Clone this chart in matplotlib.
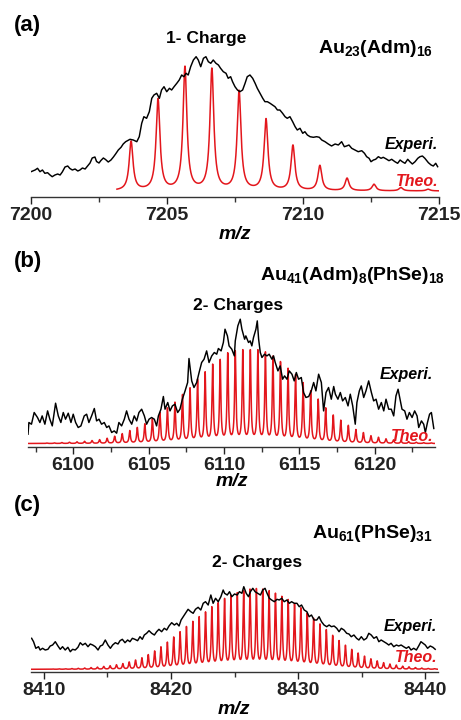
import numpy as np
import matplotlib
matplotlib.use("Agg")
import matplotlib.pyplot as plt
from matplotlib.ticker import MultipleLocator

plt.rcParams['font.family'] = ['Liberation Sans', 'DejaVu Sans']
plt.rcParams['font.weight'] = 'bold'
plt.rcParams['mathtext.fontset'] = 'custom'
plt.rcParams['mathtext.rm'] = 'Liberation Sans:bold'
plt.rcParams['mathtext.bf'] = 'Liberation Sans:bold'
plt.rcParams['mathtext.default'] = 'bf'

# ---- (a) Au23(Adm)16, 1- charge ----
exp_a_mz = [7200.00, 7200.15, 7200.24, 7200.33, 7200.42, 7200.51, 7200.61, 7200.70, 7200.78, 7200.88,
            7200.98, 7201.07, 7201.15, 7201.25, 7201.35, 7201.43, 7201.52, 7201.62, 7201.72, 7201.80,
            7201.89, 7201.99, 7202.08, 7202.17, 7202.25, 7202.35, 7202.41, 7202.50, 7202.57, 7202.66,
            7202.74, 7202.84, 7202.94, 7203.03, 7203.11, 7203.21, 7203.31, 7203.39, 7203.48, 7203.64,
            7203.76, 7203.89, 7203.98, 7204.07, 7204.15, 7204.25, 7204.35, 7204.44, 7204.52, 7204.62,
            7204.72, 7204.80, 7204.89, 7204.99, 7205.09, 7205.17, 7205.26, 7205.36, 7205.45, 7205.54,
            7205.62, 7205.70, 7205.78, 7205.87, 7205.97, 7206.07, 7206.15, 7206.24, 7206.34, 7206.43,
            7206.52, 7206.61, 7206.70, 7206.80, 7206.89, 7206.97, 7207.07, 7207.17, 7207.25, 7207.34,
            7207.41, 7207.50, 7207.59, 7207.68, 7207.78, 7207.87, 7207.95, 7208.05, 7208.15, 7208.24,
            7208.32, 7208.42, 7208.52, 7208.60, 7208.69, 7208.79, 7208.88, 7208.97, 7209.06, 7209.15,
            7209.25, 7209.34, 7209.42, 7209.52, 7209.62, 7209.71, 7209.79, 7209.89, 7209.99, 7210.07,
            7210.16, 7210.26, 7210.38, 7210.50, 7210.60, 7210.69, 7210.81, 7210.93, 7211.05, 7211.18,
            7211.30, 7211.42, 7211.52, 7211.60, 7211.69, 7211.79, 7211.91, 7212.03, 7212.16, 7212.26,
            7212.34, 7212.43, 7212.50, 7212.59, 7212.67, 7212.77, 7212.87, 7212.95, 7213.08, 7213.16,
            7213.26, 7213.38, 7213.48, 7213.57, 7213.65, 7213.75, 7213.85, 7213.93, 7214.02, 7214.12,
            7214.22, 7214.30, 7214.39, 7214.48, 7214.61, 7214.71, 7214.79, 7214.88, 7214.95]
exp_a_int = [19.3, 21.0, 22.7, 19.3, 21.0, 17.7, 18.3, 16.0, 14.3, 16.0,
             17.0, 16.0, 19.0, 24.0, 25.0, 22.5, 21.0, 22.0, 20.0, 21.0,
             23.0, 22.0, 25.0, 28.0, 33.0, 34.0, 29.5, 28.0, 30.5, 33.0,
             31.5, 29.0, 31.0, 34.0, 37.0, 41.0, 43.7, 47.0, 49.3, 51.7,
             51.0, 49.3, 54.3, 67.7, 74.3, 72.7, 79.3, 92.7, 96.0, 97.7,
             92.7, 101.0, 104.3, 99.3, 102.7, 101.0, 104.3, 107.7, 111.0, 116.0,
             114.3, 117.7, 116.0, 124.3, 131.0, 134.3, 131.0, 124.3, 132.7, 134.3,
             129.3, 127.7, 131.0, 127.7, 126.0, 122.7, 119.3, 117.7, 112.7, 114.3,
             109.3, 104.3, 101.0, 99.3, 101.0, 107.7, 114.3, 116.0, 112.7, 107.7,
             102.7, 97.7, 92.7, 89.3, 89.3, 87.7, 86.0, 84.3, 81.0, 81.0,
             77.7, 74.3, 72.7, 74.3, 69.3, 64.3, 61.0, 62.7, 57.7, 59.3,
             56.0, 54.3, 53.7, 54.3, 53.7, 51.0, 49.3, 47.0, 45.0, 47.0,
             46.0, 49.3, 44.3, 45.0, 46.0, 42.7, 41.0, 39.3, 40.3, 37.7,
             34.3, 32.7, 29.3, 31.0, 31.7, 34.3, 32.7, 33.7, 31.7, 30.3,
             31.7, 29.3, 27.7, 31.0, 29.3, 27.7, 31.7, 29.3, 27.0, 29.3,
             32.7, 34.3, 35.0, 32.7, 28.3, 26.0, 25.0, 27.7, 24.3]
theo_a_mz = [7203.68, 7204.67, 7205.66, 7206.65, 7207.65, 7208.64,
             7209.63, 7210.62, 7211.62, 7212.61, 7213.60, 7214.60]
theo_a_int = [49, 91, 123, 121, 99, 71, 45, 25, 12.5, 6.5, 3.3, 1.7]

# ---- (b) Au41(Adm)8(PhSe)18, 2- charges ----
exp_b_mz = [6097.00, 6097.06, 6097.23, 6097.41, 6097.63, 6097.79, 6097.94, 6098.12, 6098.30, 6098.45,
            6098.61, 6098.83, 6099.01, 6099.18, 6099.34, 6099.49, 6099.67, 6099.85, 6100.00, 6100.16,
            6100.33, 6100.51, 6100.73, 6100.89, 6101.04, 6101.22, 6101.40, 6101.55, 6101.71, 6101.88,
            6102.06, 6102.22, 6102.37, 6102.55, 6102.72, 6102.88, 6103.03, 6103.21, 6103.39, 6103.54,
            6103.70, 6103.88, 6104.05, 6104.21, 6104.36, 6104.54, 6104.72, 6104.87, 6105.03, 6105.20,
            6105.38, 6105.53, 6105.65, 6105.82, 6105.98, 6106.09, 6106.27, 6106.42, 6106.58, 6106.75,
            6106.93, 6107.08, 6107.24, 6107.42, 6107.59, 6107.68, 6107.86, 6108.01, 6108.19, 6108.35,
            6108.52, 6108.68, 6108.85, 6109.01, 6109.19, 6109.36, 6109.52, 6109.63, 6109.81, 6109.96,
            6110.07, 6110.23, 6110.34, 6110.52, 6110.69, 6110.75, 6110.92, 6111.08, 6111.19, 6111.37,
            6111.45, 6111.63, 6111.74, 6111.85, 6111.96, 6112.12, 6112.21, 6112.30, 6112.41, 6112.52,
            6112.69, 6112.85, 6113.00, 6113.18, 6113.29, 6113.40, 6113.58, 6113.73, 6113.89, 6114.02,
            6114.18, 6114.33, 6114.51, 6114.66, 6114.80, 6114.95, 6115.13, 6115.28, 6115.44, 6115.62,
            6115.79, 6115.95, 6116.10, 6116.28, 6116.46, 6116.61, 6116.77, 6116.94, 6117.12, 6117.28,
            6117.39, 6117.56, 6117.72, 6117.87, 6118.05, 6118.23, 6118.38, 6118.54, 6118.71, 6118.82,
            6118.98, 6119.11, 6119.27, 6119.42, 6119.60, 6119.78, 6119.93, 6120.09, 6120.26, 6120.44,
            6120.60, 6120.75, 6120.93, 6121.10, 6121.26, 6121.41, 6121.55, 6121.68, 6121.81, 6121.99,
            6122.14, 6122.30, 6122.48, 6122.65, 6122.81, 6122.92, 6123.10, 6123.25, 6123.36, 6123.50,
            6123.64, 6123.76, 6123.92]
exp_b_int = [9.3, 21.0, 19.3, 31.0, 26.0, 21.0, 27.6, 19.3, 32.6, 24.3,
             17.6, 40.3, 27.6, 21.0, 31.0, 24.3, 30.3, 21.0, 29.3, 21.0,
             16.0, 17.6, 27.6, 29.3, 21.0, 27.6, 35.0, 22.6, 24.3, 19.3,
             21.0, 16.0, 17.6, 11.0, 12.6, 10.3, 21.0, 17.6, 24.3, 32.6,
             24.3, 19.3, 27.6, 22.6, 31.0, 34.3, 27.6, 19.3, 24.3, 26.0,
             24.3, 17.6, 27.6, 34.3, 47.0, 34.3, 41.0, 32.6, 37.6, 39.3,
             31.0, 34.3, 44.3, 52.6, 61.0, 85.0, 62.6, 56.0, 61.0, 71.0,
             81.0, 84.3, 92.6, 81.0, 87.6, 91.0, 89.3, 95.0, 92.6, 101.0,
             114.3, 107.6, 97.6, 94.3, 87.6, 102.6, 117.6, 124.3, 114.3, 104.3,
             107.6, 101.0, 102.6, 97.6, 106.0, 114.3, 122.6, 104.3, 91.0, 86.0,
             89.3, 87.6, 89.3, 84.3, 87.6, 81.0, 72.6, 77.6, 64.3, 67.6,
             64.3, 72.6, 69.3, 62.6, 71.0, 64.3, 66.0, 51.0, 46.0, 47.0,
             52.6, 61.0, 52.6, 69.3, 61.0, 32.6, 51.0, 56.0, 44.3, 57.0,
             49.3, 44.3, 51.0, 42.6, 46.0, 37.6, 49.3, 37.6, 19.3, 41.0,
             52.6, 57.6, 46.0, 52.6, 62.6, 51.0, 42.6, 44.3, 34.3, 41.0,
             32.6, 44.3, 34.3, 34.3, 27.6, 47.6, 54.3, 44.3, 34.3, 32.6,
             24.3, 31.0, 26.0, 32.6, 27.6, 16.0, 22.6, 19.3, 11.0, 21.0,
             29.3, 31.0, 15.0]
theo_b_mz = [6098.25, 6098.75, 6099.25, 6099.75, 6100.25, 6100.75, 6101.25, 6101.75, 6102.25, 6102.75,
             6103.25, 6103.75, 6104.25, 6104.75, 6105.25, 6105.75, 6106.25, 6106.75, 6107.25, 6107.75,
             6108.25, 6108.75, 6109.25, 6109.75, 6110.25, 6110.75, 6111.25, 6111.75, 6112.25, 6112.75,
             6113.25, 6113.75, 6114.25, 6114.75, 6115.25, 6115.75, 6116.25, 6116.75, 6117.25, 6117.75,
             6118.25, 6118.75, 6119.25, 6119.75, 6120.25, 6120.75, 6121.25, 6121.75, 6122.25, 6122.75,
             6123.25, 6123.75]
theo_b_int = [0.4, 0.6, 0.9, 1.2, 1.6, 2.1, 2.8, 3.7, 5.0, 7.0,
              9.5, 12.5, 15.5, 19.0, 24.0, 30.0, 34.5, 40.0, 47.5, 54.0,
              62.5, 69.5, 77.0, 81.5, 88.0, 90.0, 91.0, 91.0, 91.0, 89.0,
              85.0, 79.5, 73.0, 67.0, 59.0, 51.0, 43.0, 34.5, 27.5, 22.5,
              17.5, 13.5, 10.5, 7.5, 6.0, 4.5, 3.5, 2.5, 1.8, 1.2,
              0.8, 0.5]

# ---- (c) Au61(PhSe)31, 2- charges ----
exp_c_mz = [8409.05, 8409.20, 8409.38, 8409.59, 8409.72, 8409.91, 8410.12, 8410.33, 8410.51, 8410.70,
            8410.91, 8411.12, 8411.30, 8411.48, 8411.69, 8411.90, 8412.09, 8412.27, 8412.48, 8412.69,
            8412.87, 8413.06, 8413.27, 8413.48, 8413.66, 8413.85, 8414.06, 8414.27, 8414.45, 8414.63,
            8414.84, 8415.05, 8415.24, 8415.42, 8415.63, 8415.84, 8416.00, 8416.18, 8416.39, 8416.60,
            8416.78, 8416.97, 8417.17, 8417.38, 8417.57, 8417.75, 8417.91, 8418.09, 8418.28, 8418.49,
            8418.70, 8418.88, 8419.06, 8419.27, 8419.48, 8419.67, 8419.85, 8420.06, 8420.27, 8420.46,
            8420.64, 8420.80, 8420.97, 8421.14, 8421.35, 8421.56, 8421.75, 8421.93, 8422.14, 8422.35,
            8422.54, 8422.72, 8422.93, 8423.14, 8423.32, 8423.51, 8423.72, 8423.93, 8424.11, 8424.22,
            8424.43, 8424.61, 8424.79, 8425.00, 8425.21, 8425.39, 8425.58, 8425.73, 8425.92, 8426.10,
            8426.25, 8426.44, 8426.62, 8426.83, 8427.04, 8427.22, 8427.40, 8427.56, 8427.74, 8427.92,
            8428.13, 8428.34, 8428.52, 8428.71, 8428.91, 8429.12, 8429.31, 8429.49, 8429.70, 8429.91,
            8430.09, 8430.27, 8430.48, 8430.69, 8430.87, 8431.05, 8431.26, 8431.47, 8431.65, 8431.84,
            8432.04, 8432.25, 8432.44, 8432.62, 8432.83, 8433.04, 8433.22, 8433.40, 8433.61, 8433.82,
            8434.00, 8434.18, 8434.39, 8434.60, 8434.78, 8434.97, 8435.17, 8435.38, 8435.56, 8435.75,
            8435.96, 8436.17, 8436.35, 8436.53, 8436.74, 8436.95, 8437.13, 8437.31, 8437.52, 8437.73,
            8437.91, 8438.10, 8438.30, 8438.51, 8438.70, 8438.88, 8439.09, 8439.30, 8439.48, 8439.66,
            8439.82, 8440.00, 8440.18, 8440.39, 8440.60, 8440.78]
exp_c_int = [31.0, 27.6, 21.0, 22.6, 19.3, 21.0, 19.3, 20.0, 23.3, 24.3,
             27.6, 23.3, 20.0, 22.6, 19.3, 22.0, 17.6, 20.0, 19.3, 22.0,
             26.6, 24.3, 26.0, 22.6, 25.3, 24.3, 22.6, 19.3, 23.3, 24.3,
             29.3, 24.3, 21.0, 24.3, 26.6, 25.3, 28.6, 30.0, 26.6, 29.3,
             27.6, 31.0, 30.0, 28.6, 32.6, 30.0, 34.3, 36.0, 38.6, 36.0,
             34.3, 37.6, 40.0, 37.6, 41.0, 39.3, 43.3, 46.6, 44.3, 46.0,
             43.3, 49.3, 52.6, 56.0, 60.0, 57.6, 56.0, 60.0, 62.0, 59.3,
             66.0, 67.6, 64.3, 74.3, 66.0, 71.0, 67.6, 72.6, 79.3, 76.0,
             74.3, 77.6, 72.6, 75.3, 74.3, 77.6, 76.0, 82.6, 76.0, 72.6,
             77.6, 81.0, 77.6, 76.0, 74.3, 79.3, 81.0, 76.0, 71.0, 69.3,
             67.6, 70.0, 69.3, 71.0, 67.6, 69.3, 66.0, 67.6, 66.0, 66.0,
             62.6, 64.3, 59.3, 57.6, 52.6, 54.3, 49.3, 49.3, 52.6, 47.6,
             44.3, 42.6, 44.3, 42.6, 43.3, 41.0, 37.6, 41.0, 39.3, 36.0,
             35.3, 32.6, 34.3, 31.0, 29.3, 32.6, 29.3, 31.0, 36.0, 34.3,
             31.0, 32.6, 27.6, 29.3, 27.6, 26.0, 24.3, 26.0, 22.6, 24.3,
             23.3, 24.3, 22.6, 21.0, 22.6, 19.3, 21.0, 19.3, 23.3, 27.6,
             26.0, 24.3, 21.0, 23.3, 22.0, 20.0]
theo_c_mz = [8410.72, 8411.22, 8411.72, 8412.22, 8412.72, 8413.22, 8413.72, 8414.22, 8414.72, 8415.22,
             8415.72, 8416.22, 8416.72, 8417.22, 8417.72, 8418.22, 8418.72, 8419.22, 8419.72, 8420.22,
             8420.72, 8421.22, 8421.72, 8422.22, 8422.72, 8423.22, 8423.72, 8424.22, 8424.72, 8425.22,
             8425.72, 8426.22, 8426.72, 8427.22, 8427.72, 8428.22, 8428.72, 8429.22, 8429.72, 8430.22,
             8430.72, 8431.22, 8431.72, 8432.22, 8432.72, 8433.22, 8433.72, 8434.22, 8434.72, 8435.22,
             8435.72, 8436.22, 8436.72, 8437.22, 8437.72, 8438.22, 8438.72, 8439.22, 8439.72, 8440.22,
             8440.72]
theo_c_int = [0.3, 0.4, 0.5, 0.7, 0.9, 1.2, 1.6, 2.1, 2.7, 3.4,
              4.3, 5.4, 7.0, 8.8, 11.0, 14.0, 17.5, 21.5, 26.0, 31.0,
              36.0, 41.0, 46.0, 50.5, 55.0, 60.0, 64.0, 68.0, 71.0, 73.5,
              75.5, 77.0, 77.5, 77.0, 75.5, 73.0, 70.0, 67.0, 63.0, 59.0,
              54.0, 49.0, 43.5, 38.0, 32.5, 27.5, 23.0, 19.0, 15.5, 12.5,
              10.0, 8.0, 6.3, 5.0, 4.0, 3.0, 2.3, 1.6, 1.2, 0.8,
              0.5]

W, H = 461, 720
red = '#e3161c'


def lorentz(x, centres, heights, hwhm):
    y = np.zeros_like(x)
    for c, h in zip(centres, heights):
        y += h * hwhm ** 2 / ((x - c) ** 2 + hwhm ** 2)
    return y


def px_text(x, y, s, **kw):
    fig.text(x / W, 1 - y / H, s, **kw)


fig = plt.figure(figsize=(W / 100, H / 100), dpi=100)

panels = [
    # rect in px (left, axis y, width, height), xlim, ylim, major, minor, theo start, hwhm
    dict(rect=(31, 197, 408, 160), xlim=(7200, 7215), ylim=(-6, 154), major=5, minor=2.5,
         exp=(exp_a_mz, exp_a_int), theo=(theo_a_mz, theo_a_int), tstart=7203.16, hwhm=0.085),
    dict(rect=(28, 447, 407, 160), xlim=(6097, 6124), ylim=(-3.5, 156.5), major=5, minor=2.5,
         exp=(exp_b_mz, exp_b_int), theo=(theo_b_mz, theo_b_int), tstart=6097, hwhm=0.052),
    dict(rect=(31, 672, 407, 140), xlim=(8409, 8441), ylim=(-2.7, 137.3), major=10, minor=5,
         exp=(exp_c_mz, exp_c_int), theo=(theo_c_mz, theo_c_int), tstart=8409, hwhm=0.06),
]

for p in panels:
    l, yb, w, h = p['rect']
    ax = fig.add_axes([l / W, 1 - yb / H, w / W, h / H])
    ax.patch.set_alpha(0)
    xs = np.linspace(p['tstart'], p['xlim'][1], 6000)
    ax.plot(xs, lorentz(xs, *p['theo'], p['hwhm']), color=red, lw=1.1)
    ax.plot(*p['exp'], color='black', lw=1.05)
    ax.set_xlim(*p['xlim'])
    ax.set_ylim(*p['ylim'])
    for s in ['top', 'left', 'right']:
        ax.spines[s].set_visible(False)
    ax.spines['bottom'].set_color('#333333')
    ax.spines['bottom'].set_linewidth(1.0)
    ax.set_yticks([])
    ax.xaxis.set_major_locator(MultipleLocator(p['major']))
    ax.xaxis.set_minor_locator(MultipleLocator(p['minor']))
    ax.tick_params(axis='x', which='major', length=5, width=1, pad=2, labelsize=14, colors='#222222')
    ax.tick_params(axis='x', which='minor', length=3.5, width=1, colors='#333333')
    for t in ax.get_xticklabels():
        t.set_fontweight('bold')

# panel letters
px_text(14, 26, '(a)', fontsize=16, fontweight='bold', va='center')
px_text(14, 262, '(b)', fontsize=16, fontweight='bold', va='center')
px_text(14, 506, '(c)', fontsize=16, fontweight='bold', va='center')

# cluster formulas
px_text(433, 53, r'Au$_{23}$(Adm)$_{16}$', fontsize=14, ha='right', va='baseline')
px_text(445, 280, r'Au$_{41}$(Adm)$_{8}$(PhSe)$_{18}$', fontsize=14, ha='right', va='baseline')
px_text(433, 538, r'Au$_{61}$(PhSe)$_{31}$', fontsize=14, ha='right', va='baseline')

# charge states
px_text(206, 39, '1- Charge', fontsize=12.5, ha='center', va='center')
px_text(238, 305, '2- Charges', fontsize=12.5, ha='center', va='center')
px_text(257, 563, '2- Charges', fontsize=12.5, ha='center', va='center')

# trace labels
for xr, ye, yt in [(438, 145, 181), (433, 374, 437), (437, 626, 657)]:
    px_text(xr, ye, 'Experi.', fontsize=11.5, style='italic', ha='right', va='center')
    px_text(xr, yt, 'Theo.', fontsize=11.5, style='italic', color=red, ha='right', va='center')

# axis titles
for xc, yc in [(235, 235), (232, 481), (234, 709)]:
    px_text(xc, yc, 'm/z', fontsize=14, style='italic', ha='center', va='center')

fig.savefig('out.png', dpi=100)
